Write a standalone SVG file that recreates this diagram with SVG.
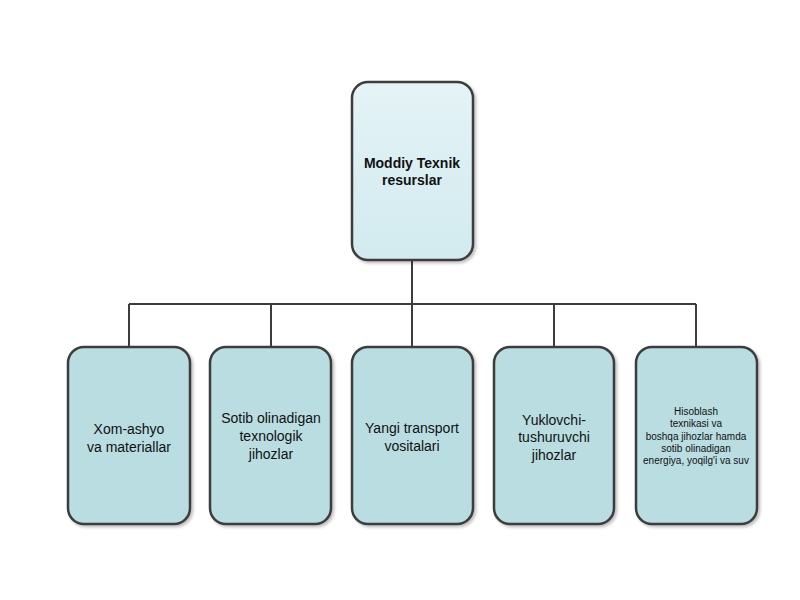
<svg xmlns="http://www.w3.org/2000/svg" width="800" height="600" viewBox="0 0 800 600">
<defs>
<linearGradient id="gTop" x1="0" y1="0" x2="0" y2="1">
<stop offset="0" stop-color="#e4f3f6"/>
<stop offset="1" stop-color="#d2eaef"/>
</linearGradient>
<filter id="sh" x="-10%" y="-10%" width="130%" height="130%">
<feDropShadow dx="2" dy="2" stdDeviation="1.5" flood-color="#000" flood-opacity="0.25"/>
</filter>
</defs>
<style>
.box{fill:#b9dde1;stroke:#3c3c3c;stroke-width:2.5;filter:url(#sh)}
.top{fill:url(#gTop)}
.t{font-family:"Liberation Sans",Arial,sans-serif;font-size:14px;fill:#111;text-anchor:middle}
.b{font-weight:bold}
.s{font-size:10px}
.c{fill:none;stroke:#3c3c3c;stroke-width:2}
</style>
<rect width="800" height="600" fill="#ffffff"/>
<g id="connectors">
<path class="c" d="M412,260 V304 M129,304 H696 M129,304 V347 M271,304 V347 M412,304 V347 M554,304 V347 M696,304 V347"/>
</g>
<g id="root">
<rect class="box top" x="352" y="82" width="121" height="178" rx="16"/>
<text class="t b" x="412" y="168">Moddiy Texnik</text>
<text class="t b" x="412" y="185">resurslar</text>
</g>
<g id="n1">
<rect class="box" x="68" y="347" width="122" height="177" rx="16"/>
<text class="t" x="129" y="434">Xom-ashyo</text>
<text class="t" x="129" y="452">va materiallar</text>
</g>
<g id="n2">
<rect class="box" x="210" y="347" width="121" height="177" rx="16"/>
<text class="t" x="271" y="423">Sotib olinadigan</text>
<text class="t" x="271" y="441">texnologik</text>
<text class="t" x="271" y="459">jihozlar</text>
</g>
<g id="n3">
<rect class="box" x="352" y="347" width="121" height="177" rx="16"/>
<text class="t" x="412" y="433">Yangi transport</text>
<text class="t" x="412" y="451">vositalari</text>
</g>
<g id="n4">
<rect class="box" x="494" y="347" width="120" height="177" rx="16"/>
<text class="t" x="554" y="425">Yuklovchi-</text>
<text class="t" x="554" y="442">tushuruvchi</text>
<text class="t" x="554" y="460">jihozlar</text>
</g>
<g id="n5">
<rect class="box" x="636" y="347" width="121" height="177" rx="16"/>
<text class="t s" x="696" y="415">Hisoblash</text>
<text class="t s" x="696" y="427">texnikasi va</text>
<text class="t s" x="696" y="440">boshqa jihozlar hamda</text>
<text class="t s" x="696" y="452">sotib olinadigan</text>
<text class="t s" x="696" y="464">energiya, yoqilg'i va suv</text>
</g>
</svg>
